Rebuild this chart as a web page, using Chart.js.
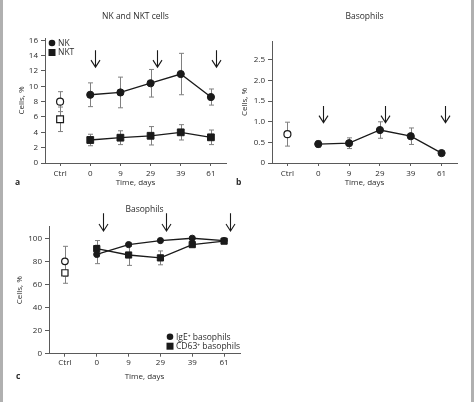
<!DOCTYPE html>
<html>
<head>
<meta charset="utf-8">
<script src="https://cdn.jsdelivr.net/npm/chart.js@4.4.1/dist/chart.umd.min.js"></script>
<style>
  body { margin: 0; background: #fff; }
  #wrap { position: relative; width: 474px; height: 402px; overflow: hidden; background: #fff; }
  canvas { position: absolute; }
  .edge { position: absolute; top: 0; width: 3px; height: 402px; background: #b0b0b0; }
</style>
</head>
<body>
<div id="wrap">
  <div class="edge" style="left:0"></div>
  <div class="edge" style="left:471px"></div>
  <canvas id="chartA" width="232" height="195" style="left:0;top:0;width:232px;height:195px"></canvas>
  <canvas id="chartB" width="238" height="195" style="left:232px;top:0;width:238px;height:195px"></canvas>
  <canvas id="chartC" width="260" height="207" style="left:0;top:195px;width:260px;height:207px"></canvas>
</div>
<script>
// ---- data
const days = ['Ctrl', '0', '9', '29', '39', '61'];

// panel a: NK and NKT cells, %
const nkCtrl = 8.0, nkCtrlErr = 1.3;
const nk = [8.9, 9.2, 10.4, 11.6, 8.6];
const nkErr = [1.55, 2.0, 1.8, 2.7, 1.05];
const nktCtrl = 5.7, nktCtrlErr = 1.6;
const nkt = [3.0, 3.3, 3.55, 4.0, 3.35];
const nktErr = [0.75, 0.9, 1.2, 1.0, 0.95];

// panel b: basophils, %
const basoCtrl = 0.7, basoCtrlErr = 0.29;
const baso = [0.46, 0.48, 0.8, 0.65, 0.24];
const basoErr = [0.08, 0.13, 0.2, 0.2, 0.02];

// panel c: IgE+ / CD63+ basophils, %
const igeCtrl = 80, igeCtrlErr = 13;
const ige = [86, 94.5, 98, 100, 98];
const igeErr = [8, 1.5, 1, 1, 1];
const cd63Ctrl = 70, cd63CtrlErr = 9;
const cd63 = [91, 85.5, 83, 94.5, 97.5];
const cd63Err = [7, 9, 6, 2, 1];

// injection arrows: category position (index), top and tip in y units
const arrowsA = { at: [1.16, 3.2, 5.16], top: 14.7, tip: 12.5 };
const arrowsB = { at: [1.16, 3.16, 5.1], top: 1.38, tip: 0.98 };
const arrowsC = { at: [1.21, 3.18, 5.18], top: 121.7, tip: 106.3 };

const FONT = "'Open Sans', 'DejaVu Sans', sans-serif";
const INK = '#1a1a1a';
const TXT = '#2b2b2b';
const AXIS = '#5a5a5a';

// ---- helpers
function ctrlRow(v) { return [v, null, null, null, null, null]; }
function mainRow(arr) { return [null].concat(arr); }

function series(label, vals, errs, style, size) {
  return {
    label: label, legendLabel: label,
    data: mainRow(vals), errors: mainRow(errs),
    borderColor: INK, borderWidth: 1.3, backgroundColor: INK,
    pointStyle: style, pointRadius: size, pointHoverRadius: size,
    pointBackgroundColor: INK, pointBorderColor: INK, pointBorderWidth: 1,
    spanGaps: false, tension: 0
  };
}
function ctrlPoint(val, err, style, size) {
  return {
    data: ctrlRow(val), errors: ctrlRow(err),
    showLine: false, borderColor: INK,
    pointStyle: style, pointRadius: size, pointHoverRadius: size,
    pointBackgroundColor: '#fff', pointBorderColor: INK, pointBorderWidth: 1.2
  };
}

// error bars drawn below the markers
const errorBars = {
  id: 'errorBars',
  beforeDatasetsDraw(chart) {
    const ctx = chart.ctx, y = chart.scales.y;
    ctx.save();
    ctx.strokeStyle = '#808080';
    ctx.lineWidth = 1;
    chart.data.datasets.forEach((ds, i) => {
      if (!ds.errors) return;
      chart.getDatasetMeta(i).data.forEach((pt, j) => {
        const v = ds.data[j], e = ds.errors[j];
        if (v == null || e == null) return;
        const x = Math.round(pt.x) + 0.5;
        const y1 = y.getPixelForValue(v + e), y2 = y.getPixelForValue(v - e);
        ctx.beginPath();
        ctx.moveTo(x, y1); ctx.lineTo(x, y2);
        ctx.moveTo(x - 2.5, y1); ctx.lineTo(x + 2.5, y1);
        ctx.moveTo(x - 2.5, y2); ctx.lineTo(x + 2.5, y2);
        ctx.stroke();
      });
    });
    ctx.restore();
  }
};

// arrows, title, panel letter and legend
const decorations = {
  id: 'decorations',
  afterDatasetsDraw(chart, args, o) {
    const ctx = chart.ctx, xs = chart.scales.x, ys = chart.scales.y;
    const area = chart.chartArea;
    ctx.save();
    // arrows
    ctx.strokeStyle = INK;
    ctx.lineWidth = 1.1;
    o.arrows.at.forEach(p => {
      const x = Math.round(xs.getPixelForValue(p)) + 0.5;
      const t = ys.getPixelForValue(o.arrows.top), b = ys.getPixelForValue(o.arrows.tip);
      ctx.beginPath();
      ctx.moveTo(x, t); ctx.lineTo(x, b);
      ctx.moveTo(x - 4.5, b - 7); ctx.lineTo(x, b); ctx.lineTo(x + 4.5, b - 7);
      ctx.stroke();
    });
    // title
    ctx.fillStyle = TXT;
    ctx.font = '8.5px ' + FONT;
    ctx.textAlign = 'center';
    ctx.textBaseline = 'middle';
    ctx.fillText(o.title, (area.left + area.right) / 2, o.titleY);
    // panel letter
    ctx.font = 'bold 8.5px ' + FONT;
    ctx.textAlign = 'left';
    ctx.fillText(o.letter, o.letterX, o.letterY);
    // legend
    if (o.legend) {
      ctx.font = '8.5px ' + FONT;
      let row = 0;
      chart.data.datasets.forEach(ds => {
        if (!ds.legendLabel) return;
        const cx = o.legend.x, cy = o.legend.y + row * o.legend.gap;
        ctx.fillStyle = INK;
        if (ds.pointStyle === 'rect') {
          ctx.fillRect(cx - 3.5, cy - 3.5, 7, 7);
        } else {
          ctx.beginPath(); ctx.arc(cx, cy, 3.3, 0, Math.PI * 2); ctx.fill();
        }
        ctx.fillStyle = TXT;
        ctx.fillText(ds.legendLabel, cx + 6, cy + 0.5);
        row++;
      });
    }
    ctx.restore();
  }
};

function makeChart(id, cfg) {
  const tickFont = { family: FONT, size: 8 };
  return new Chart(document.getElementById(id), {
    type: 'line',
    data: { labels: days, datasets: cfg.datasets },
    options: {
      responsive: false,
      animation: false,
      layout: { padding: cfg.padding },
      plugins: {
        legend: { display: false },
        tooltip: { enabled: false },
        decorations: cfg.deco
      },
      scales: {
        x: {
          type: 'category', offset: true,
          afterFit: s => { s.height = 32; },
          grid: { display: true, drawOnChartArea: false, offset: false, tickLength: 3, color: AXIS },
          border: { color: AXIS, width: 1 },
          ticks: { color: TXT, padding: cfg.xTickPad, font: tickFont, maxRotation: 0 },
          title: { display: true, text: 'Time, days', color: TXT, font: tickFont, padding: { top: 0, bottom: cfg.xTitlePad } }
        },
        y: {
          min: 0, max: cfg.yMax,
          afterFit: s => { s.width = cfg.yWidth; },
          grid: { drawOnChartArea: false, tickLength: 4, color: AXIS },
          border: { color: AXIS, width: 1 },
          ticks: { stepSize: cfg.yStep, includeBounds: false, color: TXT, padding: 3,
                   font: tickFont, callback: cfg.yFmt },
          title: { display: true, text: 'Cells, %', color: TXT, font: tickFont, padding: { top: cfg.yTitlePad, bottom: 0 } }
        }
      }
    },
    plugins: [errorBars, decorations]
  });
}

makeChart('chartA', {
  datasets: [
    series('NK', nk, nkErr, 'circle', 3.6),
    series('NKT', nkt, nktErr, 'rect', 4.8),
    ctrlPoint(nkCtrl, nkCtrlErr, 'circle', 3.5),
    ctrlPoint(nktCtrl, nktCtrlErr, 'rect', 4.8)
  ],
  padding: { top: 38, right: 5, left: 0, bottom: 0 },
  yMax: 16.3, yStep: 2, yWidth: 45, yTitlePad: 17,
  yFmt: v => v,
  xTickPad: 2.5, xTitlePad: 7,
  deco: { arrows: arrowsA, title: 'NK and NKT cells', titleY: 17, letter: 'a', letterX: 15, letterY: 183,
          legend: { x: 52, y: 43, gap: 9.5 } }
});

makeChart('chartB', {
  datasets: [
    series(null, baso, basoErr, 'circle', 3.6),
    ctrlPoint(basoCtrl, basoCtrlErr, 'circle', 3.5)
  ],
  padding: { top: 41, right: 13, left: 0, bottom: 0 },
  yMax: 2.96, yStep: 0.5, yWidth: 40, yTitlePad: 8,
  yFmt: v => (v === 0 ? '0' : v.toFixed(1)),
  xTickPad: 2.5, xTitlePad: 7,
  deco: { arrows: arrowsB, title: 'Basophils', titleY: 17, letter: 'b', letterX: 4, letterY: 183 }
});

makeChart('chartC', {
  datasets: [
    series('IgE\u207A basophils', ige, igeErr, 'circle', 3.1),
    series('CD63\u207A basophils', cd63, cd63Err, 'rect', 4.4),
    ctrlPoint(igeCtrl, igeCtrlErr, 'circle', 3.3),
    ctrlPoint(cd63Ctrl, cd63CtrlErr, 'rect', 4.4)
  ],
  padding: { top: 31.7, right: 20, left: 0, bottom: 16.3 },
  yMax: 110, yStep: 20, yWidth: 49, yTitlePad: 15,
  yFmt: v => v,
  xTickPad: 1.5, xTitlePad: 4,
  deco: { arrows: arrowsC, title: 'Basophils', titleY: 14.3, letter: 'c', letterX: 16, letterY: 182,
          legend: { x: 170, y: 141.7, gap: 9.5 } }
});
</script>
</body>
</html>
